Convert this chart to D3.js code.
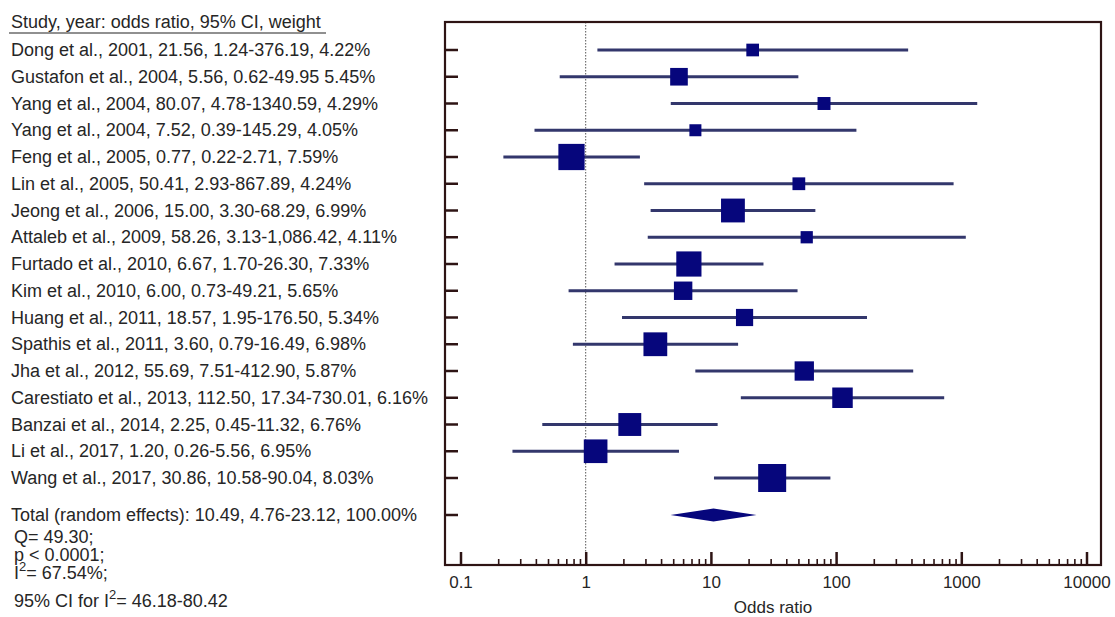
<!DOCTYPE html>
<html>
<head>
<meta charset="utf-8">
<script src="https://cdn.jsdelivr.net/npm/d3@7"></script>
<style>
  html, body { margin: 0; padding: 0; background: #fff; }
  svg { display: block; }
  text { font-family: "Liberation Sans", Arial, sans-serif; fill: #262626; }
</style>
</head>
<body>
<svg id="chart" width="1115" height="617"></svg>
<script>
// Study labels as printed in the left column
const labels = [
  "Dong et al., 2001, 21.56, 1.24-376.19, 4.22%",
  "Gustafon et al., 2004, 5.56, 0.62-49.95 5.45%",
  "Yang et al., 2004, 80.07, 4.78-1340.59, 4.29%",
  "Yang et al., 2004, 7.52, 0.39-145.29, 4.05%",
  "Feng et al., 2005, 0.77, 0.22-2.71, 7.59%",
  "Lin et al., 2005, 50.41, 2.93-867.89, 4.24%",
  "Jeong et al., 2006, 15.00, 3.30-68.29, 6.99%",
  "Attaleb et al., 2009, 58.26, 3.13-1,086.42, 4.11%",
  "Furtado et al., 2010, 6.67, 1.70-26.30, 7.33%",
  "Kim et al., 2010, 6.00, 0.73-49.21, 5.65%",
  "Huang et al., 2011, 18.57, 1.95-176.50, 5.34%",
  "Spathis et al., 2011, 3.60, 0.79-16.49, 6.98%",
  "Jha et al., 2012, 55.69, 7.51-412.90, 5.87%",
  "Carestiato et al., 2013, 112.50, 17.34-730.01, 6.16%",
  "Banzai et al., 2014, 2.25, 0.45-11.32, 6.76%",
  "Li et al., 2017, 1.20, 0.26-5.56, 6.95%",
  "Wang et al., 2017, 30.86, 10.58-90.04, 8.03%"
];
// Odds ratios, 95% CI bounds and weights (%)
const oddsRatio = [21.56, 5.56, 80.07, 7.52, 0.77, 50.41, 15.00, 58.26, 6.67, 6.00, 18.57, 3.60, 55.69, 112.50, 2.25, 1.20, 30.86];
const ciLow     = [1.24, 0.62, 4.78, 0.39, 0.22, 2.93, 3.30, 3.13, 1.70, 0.73, 1.95, 0.79, 7.51, 17.34, 0.45, 0.26, 10.58];
const ciHigh    = [376.19, 49.95, 1340.59, 145.29, 2.71, 867.89, 68.29, 1086.42, 26.30, 49.21, 176.50, 16.49, 412.90, 730.01, 11.32, 5.56, 90.04];
const weights   = [4.22, 5.45, 4.29, 4.05, 7.59, 4.24, 6.99, 4.11, 7.33, 5.65, 5.34, 6.98, 5.87, 6.16, 6.76, 6.95, 8.03];

// Pooled estimate (random effects)
const pooled = { label: "Total (random effects): 10.49, 4.76-23.12, 100.00%", or: 10.49, lo: 4.76, hi: 23.12 };

const headerText = "Study, year: odds ratio, 95% CI, weight";
const majorTicks = [0.1, 1, 10, 100, 1000, 10000];
const tickLabels = ["0.1", "1", "10", "100", "1000", "10000"];
const axisTitle = "Odds ratio";

const svg = d3.select("#chart");

const box = { left: 445, right: 1101, top: 22, bottom: 565 };
const x = d3.scaleLog().domain([0.1, 10000]).range([460.5, 1086.5]);
const y = d3.scaleLinear().domain([0, labels.length - 1]).range([50, 478]);
const yTotal = 515;
const size = d3.scaleLinear().domain([4.05, 8.03]).range([12, 28]);

const borderColor = "#2e1414";
const lineColor = "#33376c";
const markColor = "#06067c";
const fontSize = "18px";

// Left column text
svg.append("text").attr("x", 11).attr("y", 28).style("font-size", fontSize).text(headerText);
svg.append("line").attr("x1", 9).attr("x2", 326).attr("y1", 33).attr("y2", 33)
  .attr("stroke", "#222").attr("stroke-width", 1.2);

svg.append("g").selectAll("text").data(labels).join("text")
  .attr("x", 11).attr("y", (d, i) => y(i) + 6)
  .style("font-size", fontSize).text(d => d);

svg.append("text").attr("x", 11).attr("y", yTotal + 6).style("font-size", fontSize).text(pooled.label);

const stats = svg.append("g").style("font-size", fontSize);
stats.append("text").attr("x", 14).attr("y", 543).text("Q= 49.30;");
stats.append("text").attr("x", 14).attr("y", 561).text("p < 0.0001;");
const i2 = stats.append("text").attr("x", 14).attr("y", 579);
i2.append("tspan").text("I");
i2.append("tspan").attr("dy", -8).style("font-size", "13px").text("2");
i2.append("tspan").attr("dy", 8).text("= 67.54%;");
const i2ci = stats.append("text").attr("x", 14).attr("y", 607);
i2ci.append("tspan").text("95% CI for I");
i2ci.append("tspan").attr("dy", -8).style("font-size", "13px").text("2");
i2ci.append("tspan").attr("dy", 8).text("= 46.18-80.42");

// Reference line at OR = 1
svg.append("line")
  .attr("x1", x(1)).attr("x2", x(1)).attr("y1", box.top).attr("y2", box.bottom)
  .attr("stroke", "#555").attr("stroke-width", 1).attr("stroke-dasharray", "1.5,1.5");

// Confidence intervals
svg.append("g").selectAll("line").data(oddsRatio).join("line")
  .attr("x1", (d, i) => x(ciLow[i])).attr("x2", (d, i) => x(ciHigh[i]))
  .attr("y1", (d, i) => y(i)).attr("y2", (d, i) => y(i))
  .attr("stroke", lineColor).attr("stroke-width", 3);

// Point estimates, sized by weight
svg.append("g").selectAll("rect").data(oddsRatio).join("rect")
  .attr("x", (d, i) => x(d) - size(weights[i]) / 2)
  .attr("y", (d, i) => y(i) - size(weights[i]) / 2)
  .attr("width", (d, i) => size(weights[i]))
  .attr("height", (d, i) => size(weights[i]))
  .attr("fill", markColor);

// Pooled diamond
svg.append("path")
  .attr("d", `M${x(pooled.lo)},${yTotal} L${x(pooled.or)},${yTotal - 6.5} L${x(pooled.hi)},${yTotal} L${x(pooled.or)},${yTotal + 6.5} Z`)
  .attr("fill", markColor);

// Plot frame
svg.append("rect")
  .attr("x", box.left).attr("y", box.top)
  .attr("width", box.right - box.left).attr("height", box.bottom - box.top)
  .attr("fill", "none").attr("stroke", borderColor).attr("stroke-width", 2.2);

// Row ticks on the left edge
const rowYs = labels.map((d, i) => y(i)).concat([yTotal]);
svg.append("g").selectAll("line").data(rowYs).join("line")
  .attr("x1", box.left).attr("x2", box.left + 13)
  .attr("y1", d => d).attr("y2", d => d)
  .attr("stroke", borderColor).attr("stroke-width", 2.5);

// Bottom axis: major ticks with labels
const majorAxis = d3.axisBottom(x)
  .tickValues(majorTicks)
  .tickFormat((d, i) => tickLabels[i])
  .tickSize(-13).tickSizeOuter(0).tickPadding(11);
const gMajor = svg.append("g").attr("transform", `translate(0,${box.bottom})`).call(majorAxis);
gMajor.select(".domain").remove();
gMajor.selectAll(".tick line").attr("stroke", borderColor).attr("stroke-width", 2.5);
gMajor.selectAll(".tick text").style("font-size", "17px").style("font-family", "\"Liberation Sans\", Arial, sans-serif").attr("fill", "#333");

// Minor ticks (2..9 within each decade)
const minorTicks = x.ticks().filter(v => !majorTicks.some(m => Math.abs(m - v) / m < 1e-9));
const minorAxis = d3.axisBottom(x).tickValues(minorTicks).tickFormat("").tickSize(-6).tickSizeOuter(0);
const gMinor = svg.append("g").attr("transform", `translate(0,${box.bottom})`).call(minorAxis);
gMinor.select(".domain").remove();
gMinor.selectAll(".tick line").attr("stroke", borderColor).attr("stroke-width", 1.6);

// Axis title
svg.append("text")
  .attr("x", (box.left + box.right) / 2).attr("y", 613)
  .attr("text-anchor", "middle").style("font-size", "17px").attr("fill", "#333")
  .text(axisTitle);
</script>
</body>
</html>
